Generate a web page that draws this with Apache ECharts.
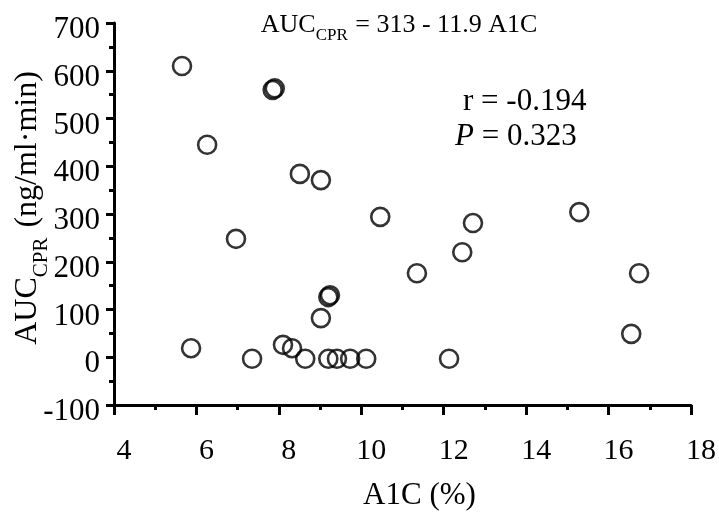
<!DOCTYPE html>
<html>
<head>
<meta charset="utf-8">
<script src="https://cdn.jsdelivr.net/npm/echarts@6/dist/echarts.min.js"></script>
<style>
html, body { margin: 0; padding: 0; background: #fff; }
#main { width: 719px; height: 516px; }
</style>
</head>
<body>
<div id="main"></div>
<script>
// A1C (%) vs AUC_CPR (ng/ml·min)
var a1c = [5.65, 7.85, 7.9, 6.26, 8.51, 9.02, 6.96, 5.87, 7.35, 8.10, 8.32, 8.64, 9.02, 9.2, 9.24,
    9.2, 9.41, 9.73, 10.12, 10.46, 12.71, 12.45, 11.35, 15.29, 16.74, 16.55, 12.13];
var auc = [610, 560, 563, 445, 384, 371, 248, 19, -3, 26, 19, -3, 82, 126, 130,
    -3, -3, -3, -3, 294, 281, 220, 176, 304, 176, 49, -3];

var xTicks = [4, 18, 2];      // min, max, interval
var yTicks = [-100, 700, 100];

var pts = [];
for (var i = 0; i < a1c.length; i++) {
    pts.push([a1c[i], auc[i]]);
}

var serif = 'Liberation Serif';

var option = {
    backgroundColor: '#fff',
    animation: false,
    textStyle: {fontFamily: serif, color: '#000'},
    title: {
        text: '{a|AUC}{s|CPR}{a| = 313 - 11.9 A1C}',
        left: 394,
        top: 3,
        textAlign: 'center',
        textStyle: {
            fontWeight: 'normal',
            rich: {
                a: {fontFamily: serif, fontWeight: 'normal', fontSize: 26, color: '#000', verticalAlign: 'bottom', lineHeight: 30},
                s: {fontFamily: serif, fontWeight: 'normal', fontSize: 17, color: '#000', verticalAlign: 'bottom', lineHeight: 22, padding: [0, 1, -6, 0]}
            }
        }
    },
    grid: {left: 114, right: 28, top: 23, bottom: 111, outerBoundsMode: 'none'},
    xAxis: {
        type: 'value',
        min: xTicks[0],
        max: xTicks[1],
        interval: xTicks[2],
        name: 'A1C (%)',
        nameLocation: 'middle',
        nameGap: 75,
        nameTextStyle: {fontFamily: serif, fontSize: 31, color: '#000', padding: [0, 0, 0, 34]},
        axisLine: {onZero: false, lineStyle: {color: '#000', width: 3}},
        axisTick: {length: 10, lineStyle: {color: '#000', width: 3}},
        minorTick: {show: true, splitNumber: 2, length: 5, lineStyle: {color: '#000', width: 3}},
        splitLine: {show: false},
        axisLabel: {fontFamily: serif, fontSize: 30, color: '#000', margin: 31, padding: [0, 0, 0, 20]}
    },
    yAxis: {
        type: 'value',
        min: yTicks[0],
        max: yTicks[1],
        interval: yTicks[2],
        axisLine: {onZero: false, lineStyle: {color: '#000', width: 3}},
        axisTick: {length: 8, lineStyle: {color: '#000', width: 3}},
        minorTick: {show: true, splitNumber: 2, length: 5, lineStyle: {color: '#000', width: 3}},
        splitLine: {show: false},
        axisLabel: {
            margin: 14,
            formatter: '{v|{value}}',
            rich: {
                v: {fontFamily: serif, fontSize: 31, color: '#000', padding: [14, 0, 0, 0]}
            }
        }
    },
    graphic: [
        // y axis name, rotated
        {
            type: 'text',
            x: 26,
            y: 208,
            rotation: Math.PI / 2,
            style: {
                text: '{a|AUC}{s|CPR}{a| (ng/ml·min)}',
                align: 'center',
                verticalAlign: 'middle',
                rich: {
                    a: {fontFamily: serif, fontSize: 32, fill: '#000', verticalAlign: 'bottom', lineHeight: 36},
                    s: {fontFamily: serif, fontSize: 21, fill: '#000', verticalAlign: 'bottom', lineHeight: 26, padding: [0, 2, -8, 0]}
                }
            }
        },
        {
            type: 'text',
            left: 463,
            top: 86,
            style: {text: 'r = -0.194', font: '31px "Liberation Serif"', fill: '#000'}
        },
        {
            type: 'text',
            left: 455,
            top: 121,
            style: {
                text: '{i|P}{n| = 0.323}',
                rich: {
                    i: {fontFamily: serif, fontStyle: 'italic', fontSize: 31, fill: '#000'},
                    n: {fontFamily: serif, fontSize: 31, fill: '#000'}
                }
            }
        }
    ],
    series: [
        {
            type: 'scatter',
            data: pts,
            symbol: 'circle',
            symbolSize: 18,
            itemStyle: {color: 'rgba(0,0,0,0)', borderColor: '#000', borderWidth: 2.6},
            emphasis: {disabled: true}
        }
    ]
};

var chart = echarts.init(document.getElementById('main'));
chart.setOption(option);
</script>
</body>
</html>
